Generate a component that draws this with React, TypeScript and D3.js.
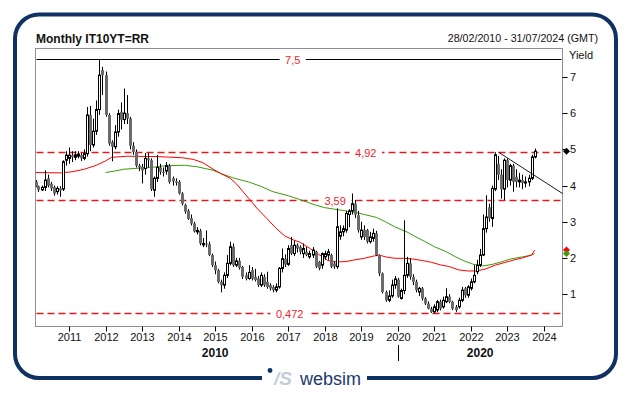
import React from "react";
import * as d3 from "d3";

const width = 630;
const height = 393;
const plot = { left: 35.5, right: 562.5, top: 48.5, bottom: 326.5 };
const font = "'Liberation Sans', Arial, sans-serif";
const navy = "#0f3262";

// monthly candles [open, high, low, close], first one is Feb 2010
const c2010 = [
  [4.10, 4.15, 3.95, 3.97], [3.98, 4.00, 3.82, 3.88], [3.88, 4.00, 3.85, 3.95], [3.95, 4.42, 3.85, 4.15],
  [4.20, 4.30, 3.95, 4.00], [4.05, 4.10, 3.85, 3.92], [3.96, 4.00, 3.72, 3.78], [3.83, 3.98, 3.75, 3.92],
  [3.92, 3.98, 3.69, 3.86], [3.90, 4.70, 3.85, 4.66], [4.70, 4.95, 4.55, 4.84],
];
const c2011 = [
  [4.75, 5.05, 4.60, 4.84], [4.84, 4.95, 4.65, 4.78], [4.78, 4.95, 4.70, 4.85], [4.81, 4.95, 4.75, 4.87],
  [4.84, 4.90, 4.68, 4.75], [4.75, 5.00, 4.70, 4.88], [4.88, 6.17, 4.80, 5.95], [5.95, 6.20, 4.95, 5.12],
  [5.12, 5.85, 5.05, 5.50], [5.50, 6.35, 5.40, 6.10], [6.10, 7.50, 5.95, 7.05], [7.19, 7.28, 6.50, 7.05],
];
const c2012 = [
  [7.05, 7.15, 5.90, 5.95], [5.95, 6.00, 5.10, 5.16], [5.20, 5.25, 4.67, 5.07], [5.07, 5.67, 5.00, 5.48],
  [5.48, 6.10, 5.35, 5.99], [6.04, 6.30, 5.55, 5.82], [5.82, 6.68, 5.70, 6.00], [6.00, 6.50, 5.70, 5.85],
  [5.85, 5.90, 5.00, 5.10], [5.10, 5.20, 4.85, 4.93], [4.93, 5.00, 4.50, 4.55], [4.55, 4.60, 4.40, 4.50],
];
const c2013 = [
  [4.52, 4.60, 4.06, 4.42], [4.47, 4.90, 4.30, 4.75], [4.75, 4.90, 4.50, 4.70], [4.70, 4.75, 3.85, 3.90],
  [3.87, 4.25, 3.69, 4.20], [4.20, 4.85, 4.10, 4.50], [4.50, 4.60, 4.30, 4.38], [4.38, 4.50, 4.25, 4.35],
  [4.40, 4.65, 4.30, 4.55], [4.55, 4.60, 4.05, 4.10], [4.20, 4.25, 4.00, 4.12], [4.12, 4.20, 4.00, 4.08],
];
const c2014 = [
  [4.10, 4.15, 3.75, 3.78], [3.78, 3.82, 3.45, 3.50], [3.46, 3.50, 3.22, 3.28], [3.30, 3.35, 3.05, 3.08],
  [3.10, 3.20, 2.90, 2.95], [2.95, 3.00, 2.70, 2.73], [2.72, 2.85, 2.65, 2.76], [2.75, 2.80, 2.35, 2.40],
  [2.36, 2.55, 2.30, 2.40], [2.40, 2.76, 2.30, 2.38], [2.38, 2.45, 2.05, 2.08], [2.08, 2.12, 1.75, 1.80],
];
const c2015 = [
  [1.80, 1.90, 1.55, 1.66], [1.66, 1.70, 1.30, 1.34], [1.34, 1.40, 1.05, 1.25], [1.25, 1.60, 1.15, 1.52],
  [1.52, 2.08, 1.45, 1.85], [1.85, 2.45, 1.80, 2.31], [2.31, 2.40, 1.75, 1.80], [1.80, 2.00, 1.75, 1.92],
  [1.92, 2.00, 1.68, 1.73], [1.75, 1.78, 1.42, 1.48], [1.52, 1.60, 1.38, 1.43], [1.43, 1.80, 1.40, 1.60],
];
const c2016 = [
  [1.66, 1.75, 1.38, 1.43], [1.48, 1.70, 1.35, 1.39], [1.43, 1.50, 1.20, 1.25], [1.25, 1.60, 1.20, 1.52],
  [1.48, 1.55, 1.20, 1.25], [1.34, 1.62, 1.15, 1.20], [1.25, 1.30, 1.10, 1.16], [1.20, 1.25, 1.05, 1.11],
  [1.11, 1.30, 1.05, 1.20], [1.20, 1.75, 1.15, 1.71], [1.71, 2.26, 1.60, 1.98], [1.98, 2.10, 1.75, 1.82],
];
const c2017 = [
  [1.82, 2.35, 1.78, 2.26], [2.35, 2.58, 2.08, 2.12], [2.12, 2.48, 2.05, 2.35], [2.35, 2.40, 2.15, 2.26],
  [2.30, 2.35, 2.10, 2.17], [2.12, 2.40, 2.00, 2.26], [2.17, 2.30, 2.05, 2.08], [2.03, 2.20, 1.98, 2.12],
  [2.08, 2.30, 2.00, 2.22], [2.17, 2.20, 1.72, 1.76], [1.89, 1.92, 1.66, 1.71], [1.80, 2.15, 1.70, 2.12],
];
const c2018 = [
  [2.03, 2.20, 1.95, 2.12], [2.08, 2.25, 1.95, 2.17], [2.08, 2.12, 1.72, 1.76], [1.85, 1.90, 1.70, 1.76],
  [1.76, 3.37, 1.70, 2.86], [2.60, 2.90, 2.50, 2.72], [2.72, 2.90, 2.60, 2.81], [2.77, 3.30, 2.70, 3.23],
  [3.20, 3.35, 2.85, 3.30], [3.30, 3.78, 3.20, 3.50], [3.50, 3.60, 3.10, 3.20], [3.18, 3.30, 2.70, 2.77],
];
const c2019 = [
  [2.58, 3.00, 2.50, 2.77], [2.77, 2.90, 2.50, 2.58], [2.77, 2.80, 2.40, 2.45], [2.45, 2.72, 2.40, 2.58],
  [2.54, 2.81, 2.45, 2.68], [2.68, 2.75, 2.05, 2.08], [2.08, 2.10, 1.50, 1.57], [1.57, 1.60, 1.02, 1.06],
  [1.06, 1.10, 0.79, 0.83], [0.83, 1.10, 0.78, 0.95], [0.95, 1.40, 0.90, 1.25], [1.25, 1.50, 1.15, 1.42],
];
const c2020 = [
  [1.40, 1.45, 0.90, 0.93], [0.88, 1.15, 0.85, 1.10], [1.10, 3.04, 1.00, 1.52], [1.52, 2.03, 1.45, 1.85],
  [1.85, 2.00, 1.40, 1.48], [1.48, 1.55, 1.25, 1.34], [1.34, 1.40, 1.05, 1.11], [1.06, 1.20, 0.95, 1.16],
  [1.16, 1.20, 0.82, 0.88], [0.88, 0.92, 0.70, 0.74], [0.74, 0.80, 0.58, 0.60], [0.60, 0.65, 0.48, 0.51],
];
const c2021 = [
  [0.51, 0.72, 0.47, 0.65], [0.56, 0.84, 0.50, 0.79], [0.79, 0.85, 0.55, 0.60], [0.65, 0.93, 0.60, 0.83],
  [0.79, 1.16, 0.75, 0.93], [0.93, 1.00, 0.75, 0.79], [0.79, 0.82, 0.56, 0.60], [0.65, 0.70, 0.51, 0.56],
  [0.65, 0.90, 0.60, 0.83], [0.83, 1.20, 0.78, 1.11], [1.16, 1.20, 0.90, 0.97], [0.97, 1.25, 0.90, 1.20],
];
const c2022 = [
  [1.16, 1.43, 1.10, 1.34], [1.34, 1.80, 1.30, 1.52], [1.62, 1.95, 1.55, 1.80], [1.80, 2.25, 1.75, 2.08],
  [2.08, 3.20, 2.05, 2.81], [2.81, 3.73, 2.70, 3.13], [3.40, 3.50, 3.00, 3.10], [3.09, 4.00, 2.86, 3.92],
  [3.90, 4.92, 3.85, 4.85], [4.60, 4.82, 4.15, 4.30], [4.30, 4.45, 3.64, 3.90], [3.90, 4.75, 3.60, 4.70],
];
const c2023 = [
  [4.70, 4.75, 3.95, 4.15], [4.15, 4.60, 4.00, 4.55], [4.55, 4.60, 3.83, 4.10], [4.24, 4.45, 3.95, 4.10],
  [4.10, 4.35, 3.95, 4.15], [4.15, 4.30, 3.90, 4.07], [4.07, 4.25, 3.95, 4.10], [4.10, 4.30, 3.98, 4.20],
  [4.20, 4.85, 4.15, 4.79], [4.79, 5.02, 4.75, 4.95],
];

// moving averages, [month index from Feb 2010, value]
const redMA = [
  [0, 4.36], [8, 4.35], [12, 4.38], [16, 4.45], [20, 4.56], [23, 4.68], [25, 4.78], [30, 4.81], [40, 4.8],
  [48, 4.77], [52, 4.72], [55, 4.63], [58, 4.47], [61, 4.33], [64, 4.2], [66, 4.05], [68, 3.85], [70, 3.65],
  [73, 3.35], [76, 3.09], [79, 2.82], [82, 2.6], [85, 2.49], [87, 2.43], [90, 2.27], [93, 2.1], [96, 1.93],
  [99, 1.89], [102, 1.9], [105, 1.95], [108, 1.99], [111, 2.05], [113, 2.08], [115, 2.03], [118, 1.99],
  [121, 1.99], [124, 1.97], [127, 1.93], [130, 1.88], [133, 1.81], [136, 1.76], [139, 1.67], [142, 1.64],
  [145, 1.64], [148, 1.7], [151, 1.8], [154, 1.87], [157, 1.94], [160, 2.0], [163, 2.08], [164, 2.22],
];
const greenMA = [
  [23, 4.36], [26, 4.4], [29, 4.45], [32, 4.47], [38, 4.5], [43, 4.55], [49, 4.56], [53, 4.52], [58, 4.43],
  [61, 4.33], [65, 4.21], [70, 4.1], [74, 3.98], [78, 3.83], [83, 3.72], [87, 3.61], [89, 3.55], [92, 3.46],
  [95, 3.39], [98, 3.35], [102, 3.3], [105, 3.26], [108, 3.2], [112, 3.12], [115, 3.0], [118, 2.86],
  [122, 2.72], [125, 2.58], [128, 2.45], [131, 2.31], [135, 2.17], [138, 2.03], [141, 1.91], [144, 1.82],
  [147, 1.78], [150, 1.82], [153, 1.89], [156, 1.97], [160, 2.03], [163, 2.08], [164, 2.12],
];

const yearTicks = [2011, 2012, 2013, 2014, 2015, 2016, 2017, 2018, 2019, 2020, 2021, 2022, 2023, 2024];
const yTicks = [1, 2, 3, 4, 5, 6, 7];
const levels = [7.5, 4.92, 3.59, 0.472];
const levelLabels = ["7,5", "4,92", "3,59", "0,472"];
const levelLabelMonth = ["2017-02", "2019-02", "2018-04", "2017-01"];
const decades = ["2010", "2020"];
const trendStart = ["2022-10", 4.92];
const trendEndValue = 3.78;

const candles = [...c2010, ...c2011, ...c2012, ...c2013, ...c2014, ...c2015, ...c2016, ...c2017,
  ...c2018, ...c2019, ...c2020, ...c2021, ...c2022, ...c2023];

const monthDate = (i: number) => new Date(2010, 1 + i, 1);
const parseMonth = (s: string) => new Date(+s.slice(0, 4), +s.slice(5, 7) - 1, 15);

const x = d3.scaleTime().domain([new Date(2010, 1, 1), new Date(2024, 5, 30)]).range([35.6, 562]);
const y = d3.scaleLinear().domain([0.12, 7.8]).range([326, 48]);

const maLine = d3.line<number[]>().x(d => x(monthDate(d[0]))).y(d => y(d[1]));

function Candle({ i, d }: { i: number; d: number[] }) {
  const [o, h, l, c] = d;
  const cx = Math.round(x(monthDate(i)));
  const up = c >= o;
  const top = y(Math.max(o, c));
  const bot = y(Math.min(o, c));
  const bh = Math.max(bot - top, 1);
  return (
    <g>
      <line x1={cx + 0.5} x2={cx + 0.5} y1={y(h)} y2={y(l)} stroke="#000" strokeWidth={1} />
      {up ? (
        <rect x={cx - 0.5} y={top} width={2} height={bh} fill="#fff" stroke="#000" strokeWidth={1} />
      ) : (
        <rect x={cx - 1} y={top} width={3} height={bh} fill="#6b6b6b" />
      )}
    </g>
  );
}

function Diamond({ cx, cy, fill }: { cx: number; cy: number; fill: string }) {
  const r = 3.5;
  return <path d={`M${cx},${cy - r}L${cx + r},${cy}L${cx},${cy + r}L${cx - r},${cy}Z`} fill={fill} />;
}

export default function App() {
  const xMid2010 = (x(new Date(2010, 0, 1)) + x(new Date(2020, 0, 1))) / 2;
  const xMid2020 = (x(new Date(2020, 0, 1)) + plot.right) / 2;
  const x2020 = Math.round(x(new Date(2020, 0, 1))) + 0.5;
  const last = candles[candles.length - 1];
  const markerX = plot.right + 4;

  return (
    <svg width={width} height={height} style={{ position: "absolute", left: 0, top: 0, background: "#fff" }}>
      {/* outer frame */}
      <rect x={15} y={14.5} width={601} height={363.5} rx={24} fill="none" stroke={navy} strokeWidth={4} />
      <rect x={262} y={370} width={105} height={14} fill="#fff" />
      <circle cx={270} cy={370.5} r={2.4} fill={navy} />
      <text x={274} y={385} fontFamily={font} fontSize={19} fontStyle="italic" fontWeight="bold" fill="#c3cddb">/S</text>
      <text x={300} y={385} fontFamily={font} fontSize={18} fill="#1b3a6e">websim</text>

      <text x={36} y={43} fontFamily={font} fontSize={12} fontWeight="bold" fill="#111">Monthly IT10YT=RR</text>
      <text x={598} y={41.5} fontFamily={font} fontSize={10.7} textAnchor="end" fill="#111">28/02/2010 - 31/07/2024 (GMT)</text>

      <rect x={plot.left} y={plot.top} width={plot.right - plot.left} height={plot.bottom - plot.top}
        fill="#fff" stroke="#8e8ea0" strokeWidth={1} />

      {/* horizontal levels */}
      {levels.map((v, i) => {
        const yy = Math.round(y(v)) + 0.5;
        const lx = x(parseMonth(levelLabelMonth[i]));
        const tw = levelLabels[i].length * 6.1;
        return (
          <g key={v}>
            <line x1={plot.left + 1} x2={plot.right - 1} y1={yy} y2={yy}
              stroke={i === 0 ? "#000" : "#e8191c"} strokeWidth={i === 0 ? 1 : 1.3}
              strokeDasharray={i === 0 ? undefined : "7,4"} />
            <rect x={lx - tw / 2 - 4} y={yy - 6} width={tw + 8} height={12} fill="#fff" />
            <text x={lx} y={yy + 4} fontFamily={font} fontSize={11} textAnchor="middle" fill="#f0242a">{levelLabels[i]}</text>
          </g>
        );
      })}

      {/* moving averages */}
      <path d={maLine(greenMA) || ""} fill="none" stroke="#3c9a0c" strokeWidth={1} />
      <path d={maLine(redMA) || ""} fill="none" stroke="#f00" strokeWidth={1} />

      {/* candles */}
      {candles.map((d, i) => <Candle key={i} i={i} d={d} />)}

      {/* trend line */}
      <line x1={x(parseMonth(trendStart[0] as string)) - 1} y1={y(trendStart[1] as number)}
        x2={plot.right} y2={y(trendEndValue)} stroke="#000" strokeWidth={0.9} />

      {/* y axis */}
      <text x={569} y={59} fontFamily={font} fontSize={11} fill="#111">Yield</text>
      {yTicks.map(t => (
        <g key={t}>
          <line x1={plot.right} x2={plot.right + 5} y1={Math.round(y(t)) + 0.5} y2={Math.round(y(t)) + 0.5} stroke="#000" />
          <text x={570} y={y(t) + 4} fontFamily={font} fontSize={11} fill="#111">{t}</text>
        </g>
      ))}
      <Diamond cx={markerX} cy={y(last[3])} fill="#000" />
      <Diamond cx={markerX} cy={y(redMA[redMA.length - 1][1])} fill="#f00" />
      <Diamond cx={markerX} cy={y(greenMA[greenMA.length - 1][1])} fill="#3c9a0c" />

      {/* x axis */}
      {yearTicks.map(yr => {
        const tx = Math.round(x(new Date(yr, 0, 1))) + 0.5;
        return (
          <g key={yr}>
            <line x1={tx} x2={tx} y1={plot.bottom} y2={plot.bottom + 5} stroke="#000" />
            <text x={tx} y={341} fontFamily={font} fontSize={11} textAnchor="middle" fill="#111">{yr}</text>
          </g>
        );
      })}
      <text x={xMid2010} y={356.5} fontFamily={font} fontSize={12} fontWeight="bold" textAnchor="middle" fill="#111">{decades[0]}</text>
      <text x={xMid2020} y={356.5} fontFamily={font} fontSize={12} fontWeight="bold" textAnchor="middle" fill="#111">{decades[1]}</text>
      <line x1={x2020} x2={x2020} y1={345} y2={361} stroke="#000" />
    </svg>
  );
}
